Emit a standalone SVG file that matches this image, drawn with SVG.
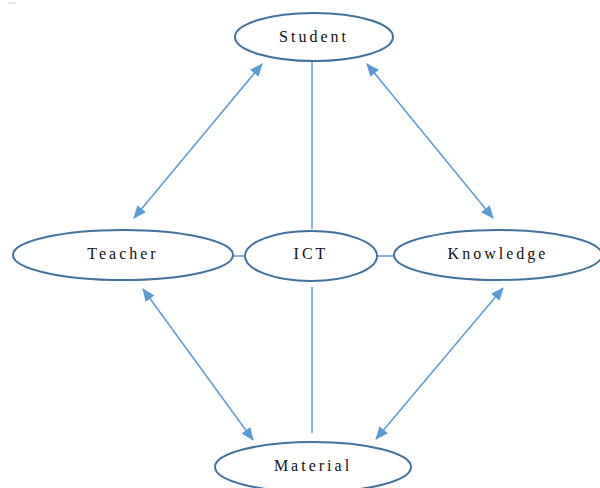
<svg xmlns="http://www.w3.org/2000/svg" width="600" height="488" viewBox="0 0 600 488">
  <defs>
    <marker id="head" viewBox="0 0 13 11" refX="12" refY="5.5" markerWidth="13" markerHeight="11" markerUnits="userSpaceOnUse" orient="auto-start-reverse">
      <path d="M0,0 L13,5.5 L0,11 Z" fill="#5b9bd5"/>
    </marker>
    <style>
      .node ellipse { fill: #ffffff; stroke: #41719c; stroke-width: 2; }
      .node text { font-family: "Liberation Serif", "Times New Roman", serif; font-size: 16px; letter-spacing: 3px; fill: #111111; text-anchor: middle; }
      .link { stroke: #5b9bd5; stroke-width: 1.5; fill: none; }
      .arrow { stroke: #5b9bd5; stroke-width: 1.5; fill: none; marker-start: url(#head); marker-end: url(#head); }
    </style>
  </defs>
  <rect width="600" height="488" fill="#ffffff"/>
  <line x1="8" y1="3" x2="16" y2="3" stroke="#d0d0d0" stroke-width="1"/>

  <g id="connectors">
    <line class="link" x1="312" y1="61" x2="312" y2="229"/>
    <line class="link" x1="312" y1="287" x2="312" y2="433"/>
    <line class="link" x1="233" y1="256" x2="246" y2="256"/>
    <line class="link" x1="377" y1="256" x2="394" y2="256"/>
    <line class="arrow" x1="262" y1="64" x2="134" y2="218"/>
    <line class="arrow" x1="367" y1="64" x2="493" y2="218"/>
    <line class="arrow" x1="143" y1="289" x2="253" y2="440"/>
    <line class="arrow" x1="503" y1="288" x2="376" y2="439"/>
  </g>

  <g id="student" class="node">
    <ellipse cx="314" cy="37" rx="79" ry="24"/>
    <text x="314" y="42">Student</text>
  </g>
  <g id="teacher" class="node">
    <ellipse cx="123" cy="255" rx="110" ry="25"/>
    <text x="123" y="259">Teacher</text>
  </g>
  <g id="ict" class="node">
    <ellipse cx="311" cy="256" rx="66" ry="25"/>
    <text x="311" y="259">ICT</text>
  </g>
  <g id="knowledge" class="node">
    <ellipse cx="498" cy="255" rx="104" ry="25"/>
    <text x="498" y="259">Knowledge</text>
  </g>
  <g id="material" class="node">
    <ellipse cx="313" cy="467" rx="98" ry="25"/>
    <text x="313" y="471">Material</text>
  </g>
</svg>
